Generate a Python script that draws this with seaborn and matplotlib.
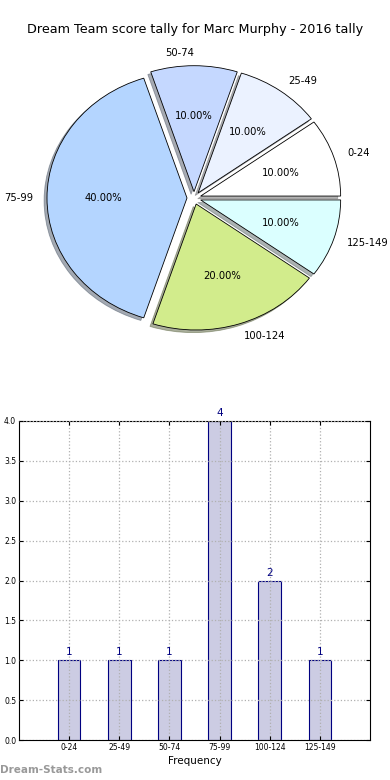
import matplotlib
matplotlib.use("Agg")
import matplotlib.pyplot as plt
import seaborn as sns
import pandas as pd

sns.set_style("ticks")
plt.rcParams['font.family'] = ['DejaVu Sans']
plt.rcParams['text.color'] = 'black'
plt.rcParams['axes.labelcolor'] = 'black'
plt.rcParams['xtick.color'] = 'black'
plt.rcParams['ytick.color'] = 'black'
plt.rcParams['axes.edgecolor'] = 'black'

# --- datos ---
rangos = ['0-24', '25-49', '50-74', '75-99', '100-124', '125-149']
frecuencia = [1, 1, 1, 4, 2, 1]
colores_pie = ['#ffffff', '#ebf2ff', '#c5d8ff', '#b4d5ff', '#d2ec8c', '#dbffff']
titulo = "Dream Team score tally for Marc Murphy - 2016 tally"

df = pd.DataFrame({'rango': rangos, 'frecuencia': frecuencia})

fig = plt.figure(figsize=(3.9, 7.8), dpi=100)

# --- pie (ligeramente elíptico, como en la referencia) ---
rx, ry = 140, 126
lim = 1.2
cx, cy = 194, 198
ancho, alto = 2 * lim * rx, 2 * lim * ry
ax_pie = fig.add_axes([(cx - ancho / 2) / 390, (780 - cy - alto / 2) / 780, ancho / 390, alto / 780])
ax_pie.pie(df['frecuencia'], labels=df['rango'], colors=colores_pie,
           explode=[0.05] * len(rangos),
           shadow={'ox': -0.015, 'oy': -0.015, 'shade': 0.6}, startangle=0,
           autopct='%.2f%%', pctdistance=0.6, labeldistance=1.1,
           wedgeprops={'edgecolor': 'black', 'linewidth': 0.6},
           textprops={'fontsize': 7.2, 'color': 'black'})
ax_pie.set_aspect('auto')
ax_pie.set_xlim(-lim, lim)
ax_pie.set_ylim(-lim, lim)
fig.text(0.5, 1 - 30 / 780, titulo, ha='center', va='center', fontsize=9.2)

# --- barras ---
ax = fig.add_axes([19 / 390, 40 / 780, 351 / 390, 319 / 780])
sns.barplot(data=df, x='rango', y='frecuencia', ax=ax, width=0.45,
            color='#ccccE3', edgecolor='#000080', linewidth=0.8, saturation=1)
ax.set_xlim(-1, 6)
ax.set_ylim(0, 4)
ax.set_yticks([0, 0.5, 1, 1.5, 2, 2.5, 3, 3.5, 4])
ax.set_yticklabels([f'{v:.1f}' for v in ax.get_yticks()])
ax.grid(True, linestyle=':', color='#b0b0b0', linewidth=0.9)
ax.set_axisbelow(False)
ax.tick_params(labelsize=5.5, direction='in', top=True, right=True, length=3, pad=2)
ax.set_xlabel("Frequency", fontsize=7.5, labelpad=3)
ax.set_ylabel("")
for s in ax.spines.values():
    s.set_linewidth(0.8)
for i, v in enumerate(frecuencia):
    ax.annotate(str(v), (i, v), xytext=(0, 2), textcoords='offset points',
                ha='center', va='bottom', color='#000080', fontsize=7.5,
                annotation_clip=False)

fig.text(0.0, 1 - 770 / 780, "Dream-Stats.com", ha='left', va='center',
         fontsize=7.5, color='#999999', fontweight='bold')

fig.savefig("out.png", dpi=100)
